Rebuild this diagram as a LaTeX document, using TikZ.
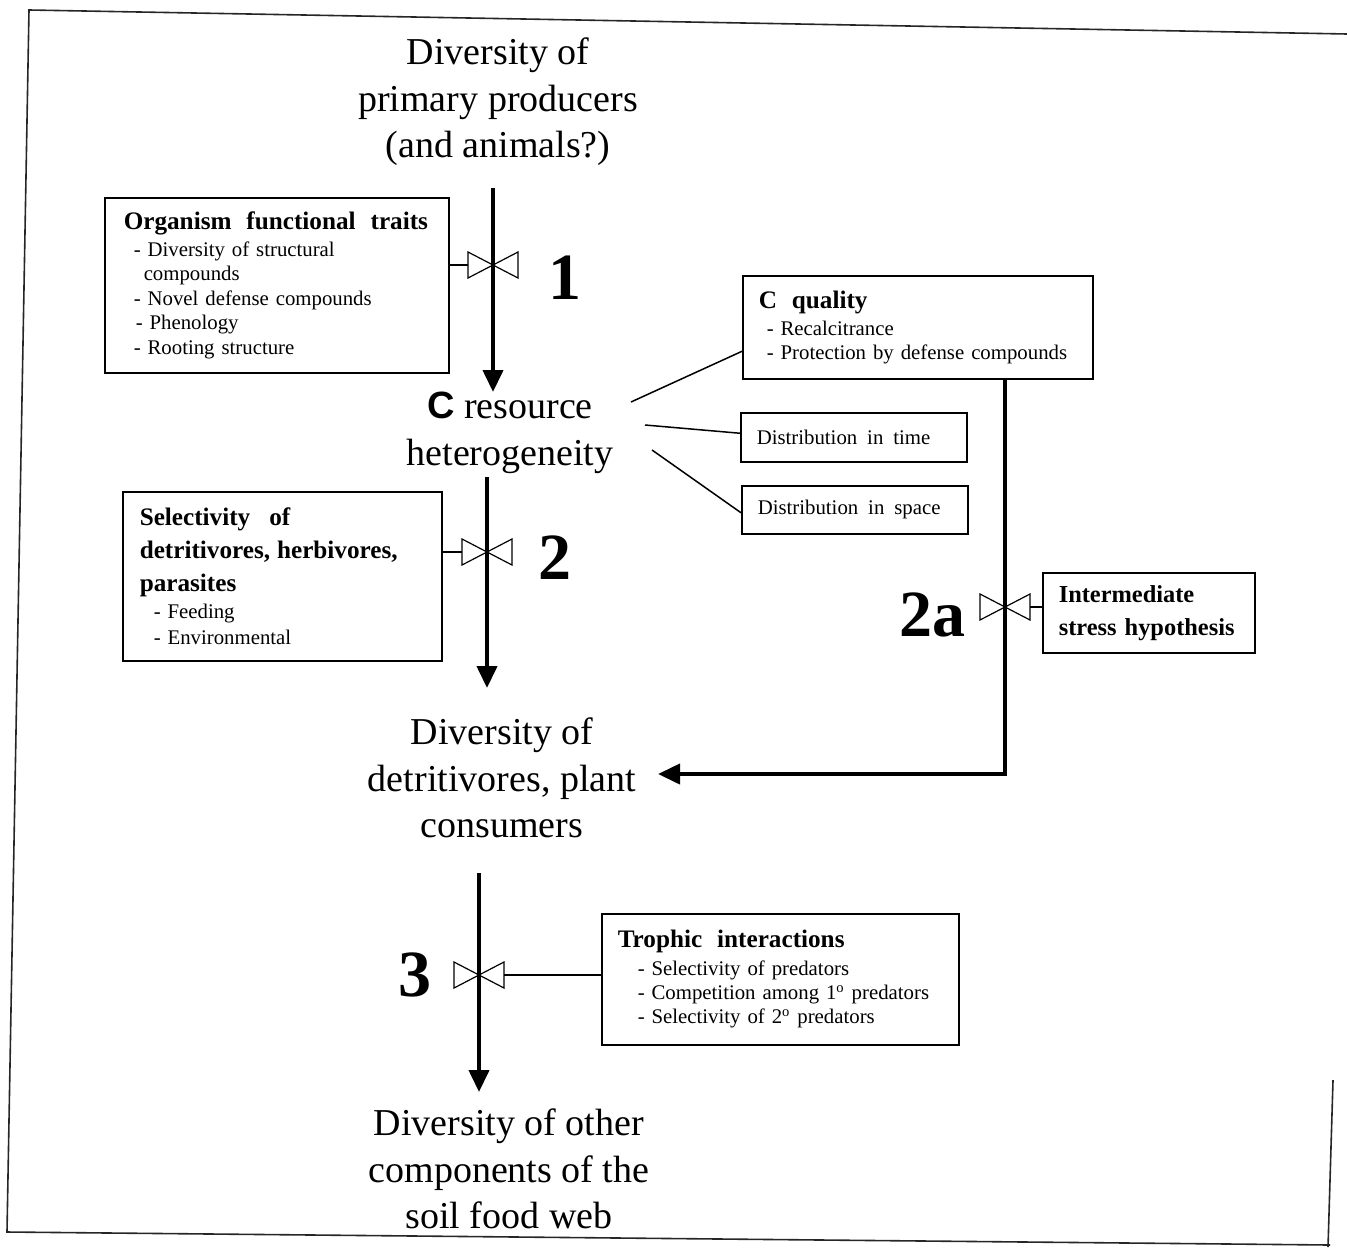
\documentclass[tikz,border=0pt]{standalone}
\usepackage{fontspec}
\setmainfont{Liberation Serif}
\newfontfamily\sansfont{Liberation Sans}
\usetikzlibrary{arrows.meta,calc}
\newcommand\itemfont{\fontsize{10.4}{12.2}\selectfont}
\newcommand\ttlfont{\fontsize{12.6}{12.2}\selectfont\bfseries}
\begin{document}
\begin{tikzpicture}[x=0.5pt,y=-0.5pt,
  big/.style={font=\fontsize{19}{23.25}\selectfont, align=center, inner sep=0pt},
  box/.style={draw, line width=0.75pt, anchor=north west, align=left, inner ysep=0pt, font=\itemfont},
  num/.style={font=\fontsize{33}{33}\selectfont\bfseries, inner sep=0pt},
  flow/.style={line width=2pt, -{Triangle[width=10pt,length=11pt]}},
  thinline/.style={line width=0.75pt},
  frame/.style={line width=0.8pt, black!85},
  valve/.pic={
    \draw[line width=0.6pt, line join=miter] (-25,-13)--(25,13)--(25,-13)--(-25,13)--cycle;
    \coordinate (-l) at (-25,0);
    \coordinate (-r) at (25,0);
    \coordinate (-c) at (0,0);}
]
\useasboundingbox (0,0) rectangle (1347,1247);
% frame
\coordinate (fa) at (29,10);
\coordinate (fb) at (1347,34);
\coordinate (fc) at (7,1232);
\coordinate (fd) at (1330,1245);
\coordinate (fe) at (1333,1080);
\coordinate (ff) at (1328,1247);
\draw[frame] (fb) -- (fa) -- (fc) -- (fd);
\draw[frame] (fe) -- (ff);

% main texts
\node[big] (top) at (498,102) {Diversity of\\primary producers\\(and animals?)};
\node[big] (het) at (510,433) {{\sansfont\bfseries C} resource\\heterogeneity};
\node[big] (det) at (502,778) {Diversity of\\detritivores, plant\\consumers};
\node[big] (oth) at (509,1169) {Diversity of other\\components of the\\soil food web};

% boxes
\node[box, inner xsep=9.5pt, text width=153pt, minimum height=87.5pt] (b1) at (104,197) {%
  \mbox{\ttlfont Organism\hspace{4pt} functional\hspace{4pt} traits}\\[1.3pt]
  \hspace*{5pt}- Diversity of structural\\
  \hspace*{10pt}compounds\\
  \hspace*{5pt}- Novel defense compounds\\
  \hspace*{6pt}- Phenology\\
  \hspace*{5pt}- Rooting structure};
\node[box, inner xsep=8.5pt, text width=142.5pt, minimum height=84.5pt] (b2) at (122,491) {%
  \mbox{\ttlfont Selectivity\hspace{6pt} of}\\[4.3pt]
  \mbox{\ttlfont detritivores, herbivores,}\\[4.3pt]
  \mbox{\ttlfont parasites}\\[1.3pt]
  \hspace*{7pt}- Feeding\\[0.8pt]
  \hspace*{7pt}- Environmental};
\node[box, inner xsep=8pt, text width=159pt, minimum height=51.5pt] (cq) at (742,275) {%
  \mbox{\ttlfont C\hspace{4pt} quality}\\[1.3pt]
  \hspace*{4pt}- Recalcitrance\\
  \hspace*{4pt}- Protection by defense compounds};
\node[box, inner xsep=8pt, text width=97pt, minimum height=24.5pt] (dt) at (740,412) {%
  Distribution\hspace{1.5pt} in\hspace{1.5pt} time};
\node[box, inner xsep=8pt, text width=97pt, minimum height=24pt] (ds) at (741,485) {%
  Distribution\hspace{1.5pt} in\hspace{1.5pt} space};
\node[box, inner xsep=8pt, text width=90pt, minimum height=40pt,
      font=\fontsize{12.2}{16.5}\selectfont\bfseries] (ish) at (1042,572) {%
  Intermediate\\ stress hypothesis};
\node[box, inner xsep=8pt, text width=162.5pt, minimum height=65.5pt] (tro) at (601,913) {%
  \mbox{\ttlfont Trophic\hspace{4pt} interactions}\\[1.6pt]
  \hspace*{10pt}- Selectivity of predators\\
  \hspace*{10pt}- Competition among 1\textsuperscript{o} predators\\
  \hspace*{10pt}- Selectivity of 2\textsuperscript{o} predators};

% main flow arrows
\coordinate (a1s) at (493,188);
\coordinate (a1e) at (493,392);
\coordinate (a2s) at (487,477);
\coordinate (a2e) at (487,688);
\coordinate (a3s) at (479,873);
\coordinate (a3e) at (479,1092);
\coordinate (a4e) at (658,774);
\draw[flow] (a1s) -- (a1e);
\draw[flow] (a2s) -- (a2e);
\draw[flow] (a3s) -- (a3e);

% valves
\pic (v1) at (493,265) {valve};
\pic (v2) at (487,552) {valve};
\pic (v2a) at (1005,607) {valve};
\pic (v3) at (479,975) {valve};

\draw[flow] (cq.south -| v2a-c) |- (a4e);

% valve connectors
\draw[thinline] (b1.east |- v1-l) -- (v1-l);
\draw[thinline] (b2.east |- v2-l) -- (v2-l);
\draw[thinline] (v2a-r) -- (ish.west |- v2a-r);
\draw[thinline] (v3-r) -- (tro.west |- v3-r);

% numbers
\node[num] (n1) at (565,278) {1};
\node[num] (n2) at (555,558) {2};
\node[num] (n2a) at (932,615) {2a};
\node[num] (n3) at (415,975) {3};

% heterogeneity aspects
\coordinate (h1) at (631,402);
\coordinate (h2) at (645,425);
\coordinate (h3) at (652,450);
\draw[thinline] (h1) -- ($(cq.south west)!0.27!(cq.north west)$);
\draw[thinline] (h2) -- ($(dt.west)+(0,-4)$);
\draw[thinline] (h3) -- ($(ds.west)+(0,3)$);
\end{tikzpicture}
\end{document}
